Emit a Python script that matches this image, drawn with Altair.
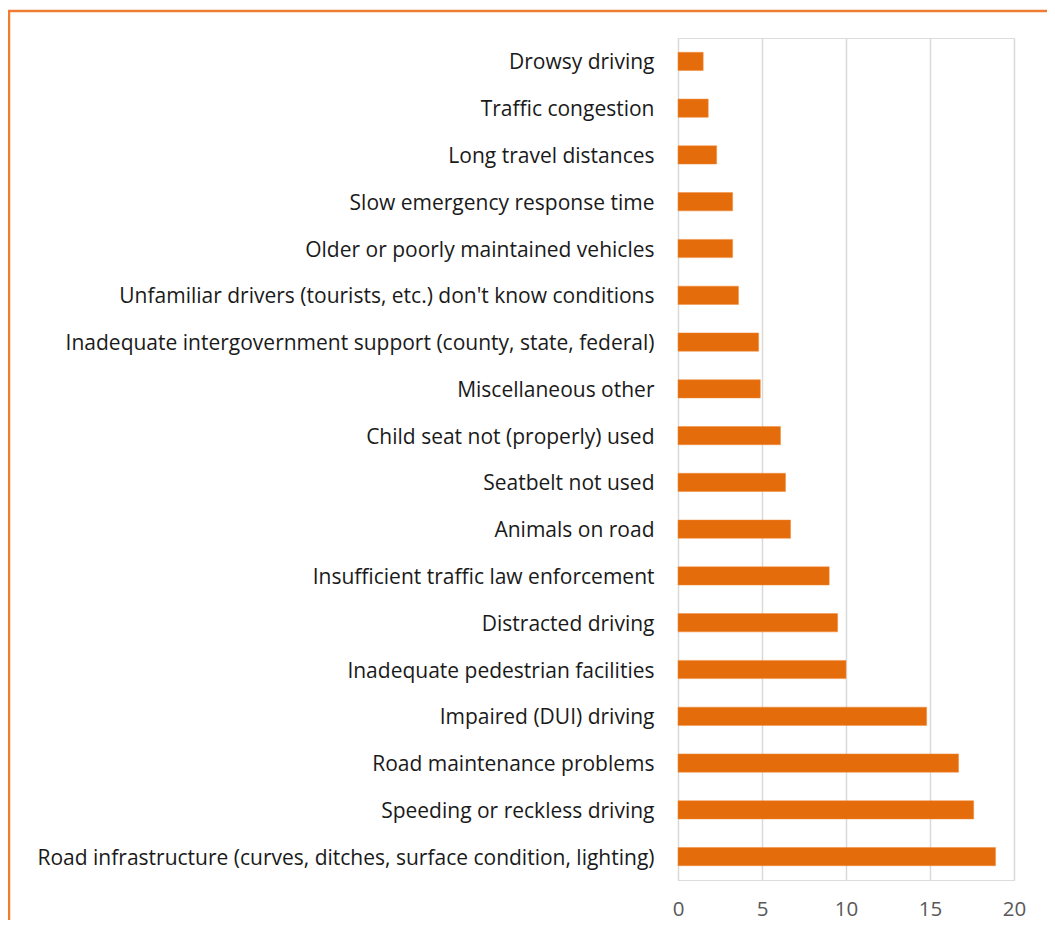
import altair as alt
import pandas as pd

categories = [
    "Drowsy driving",
    "Traffic congestion",
    "Long travel distances",
    "Slow emergency response time",
    "Older or poorly maintained vehicles",
    "Unfamiliar drivers (tourists, etc.) don't know conditions",
    "Inadequate intergovernment support (county, state, federal)",
    "Miscellaneous other",
    "Child seat not (properly) used",
    "Seatbelt not used",
    "Animals on road",
    "Insufficient traffic law enforcement",
    "Distracted driving",
    "Inadequate pedestrian facilities",
    "Impaired (DUI) driving",
    "Road maintenance problems",
    "Speeding or reckless driving",
    "Road infrastructure (curves, ditches, surface condition, lighting)",
]
values = [1.5, 1.8, 2.3, 3.25, 3.25, 3.6, 4.8, 4.9, 6.1, 6.4, 6.7, 9.0, 9.5, 10.0, 14.8, 16.7, 17.6, 18.9]
x_ticks = [0, 5, 10, 15, 20]

df = pd.DataFrame({"category": categories, "value": values})

FONT = "Open Sans"

bars = alt.Chart(df).mark_bar(color="#E46C0A", stroke="#F28A3A", strokeWidth=0.5).encode(
    x=alt.X(
        "value:Q",
        scale=alt.Scale(domain=[0, 20], nice=False),
        axis=alt.Axis(
            values=x_ticks,
            title=None,
            domain=False,
            ticks=False,
            grid=True,
            gridColor="#D9D9D9",
            gridWidth=1.5,
            labelFont=FONT,
            labelFontSize=20.5,
            labelColor="#595959",
            labelPadding=19,
            labelFlush=False,
        ),
    ),
    y=alt.Y(
        "category:N",
        sort=categories,
        scale=alt.Scale(paddingInner=0.61, paddingOuter=0.305),
        axis=alt.Axis(
            title=None,
            domain=False,
            ticks=False,
            grid=False,
            labelFont=FONT,
            labelFontSize=21,
            labelColor="#1a1a1a",
            labelPadding=24,
            labelOffset=2,
            labelLimit=1000,
        ),
    ),
)

frame = alt.Chart(pd.DataFrame({"v": [0]})).mark_rect(
    fill=None, stroke="#ED7D31", strokeWidth=2.5, clip=False
).encode(
    x=alt.value(-669), x2=alt.value(400), y=alt.value(-27), y2=alt.value(920)
)

chart = alt.layer(frame, bars).properties(
    width=336,
    height=842,
    autosize=alt.AutoSizeParams(type="none"),
    padding={"left": 670, "top": 30, "right": 33, "bottom": 40},
).configure_view(stroke=None).configure(background="white")

chart.save("out.html", embed_options={"renderer": "svg", "actions": False})
